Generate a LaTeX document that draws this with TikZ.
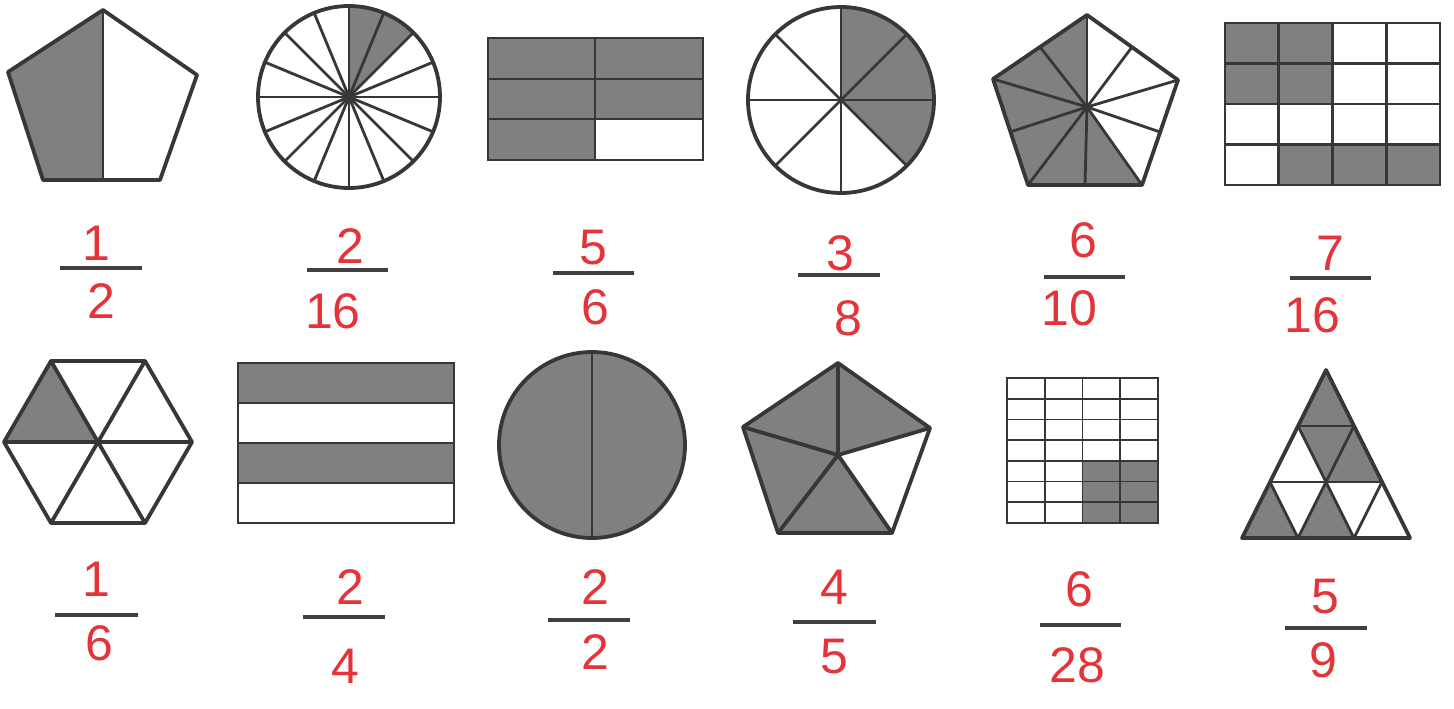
\documentclass[tikz,border=0pt]{standalone}
\usepackage{fontspec}
\setmainfont{Liberation Sans}
\usepackage{tikz}
\definecolor{pen}{RGB}{228,52,58}
\definecolor{ink}{RGB}{55,55,55}

\begin{document}
\begin{tikzpicture}[
  x=1pt,
  y=-1pt,
  part/.style={fill=black!50},
  edge/.style={draw=ink, line width=3.8pt, line join=round},
  cut/.style={draw=ink, line width=2.8pt},
  fine/.style={draw=ink, line width=1.8pt},
  bar/.style={draw=black!75, line width=3.5pt},
  num/.style={text=pen, font=\fontsize{50}{50}\selectfont, inner sep=0pt}
]
\useasboundingbox (0,0) rectangle (1454,709);

% pentagon, 1/2
\fill[part] (103,10) -- (8,72) -- (43,180) -- (103,180) -- cycle;
\draw[cut] (103,10) -- (103,180);
\draw[edge] (103,10) -- (197,75) -- (160,180) -- (43,180) -- (8,72) -- cycle;

% circle in 16 parts
\fill[part] (349,97) -- +(-90:91) arc[start angle=-90, end angle=-45, radius=91] -- cycle;
\foreach \a in {0,22.5,...,337.5}
  \draw[cut] (349,97) -- +(\a:91);
\draw[edge] (349,97) circle[radius=91];

% rectangle in 6 parts
\fill[part] (488,38) rectangle (703,119);
\fill[part] (488,119) rectangle (595,160);
\draw[cut] (488,79) -- (703,79) (488,119) -- (703,119) (595,38) -- (595,160);
\draw[cut] (488,38) rectangle (703,160);

% circle in 8 parts
\fill[part] (841,100) -- +(-90:93) arc[start angle=-90, end angle=45, radius=93] -- cycle;
\foreach \a in {0,45,...,315}
  \draw[cut] (841,100) -- +(\a:93);
\draw[edge] (841,100) circle[radius=93];

% pentagon in 10 parts
\fill[part] (1087,107) -- (1087,15) -- (993,79) -- (1028,185) -- (1142,185) -- cycle;
\foreach \p in {(1087,15),(1178,80),(1142,185),(1028,185),(993,79),
                (1040,47),(1010,132),(1085,185),(1160,132),(1132,47)}
  \draw[cut] (1087,107) -- \p;
\draw[edge] (1087,15) -- (1178,80) -- (1142,185) -- (1028,185) -- (993,79) -- cycle;

% grid 4x4
\fill[part] (1225,23) rectangle (1332.5,104);
\fill[part] (1278.75,144.5) rectangle (1440,185);
\foreach \x in {1278.75,1332.5,1386.25}
  \draw[cut] (\x,23) -- (\x,185);
\foreach \y in {63.5,104,144.5}
  \draw[cut] (1225,\y) -- (1440,\y);
\draw[cut] (1225,23) rectangle (1440,185);

% hexagon
\fill[part] (98,442) -- (4,442) -- (51,361) -- cycle;
\draw[edge] (51,361) -- (145,523) (145,361) -- (51,523) (4,442) -- (192,442);
\draw[edge] (51,361) -- (145,361) -- (192,442) -- (145,523) -- (51,523) -- (4,442) -- cycle;

% stripes
\fill[part] (238,363) rectangle (454,403);
\fill[part] (238,443) rectangle (454,483);
\draw[cut] (238,403) -- (454,403) (238,443) -- (454,443) (238,483) -- (454,483);
\draw[cut] (238,363) rectangle (454,523);

% full circle
\fill[part] (592,445) circle[radius=93];
\draw[cut] (592,352) -- (592,538);
\draw[edge] (592,445) circle[radius=93];

% pentagon in 5 parts
\fill[part] (838,363) -- (743,427) -- (778,533) -- (892,533) -- (838,455) -- (930,428) -- cycle;
\foreach \p in {(838,363),(743,427),(778,533),(892,533),(930,428)}
  \draw[edge] (838,455) -- \p;
\draw[edge] (838,363) -- (930,428) -- (892,533) -- (778,533) -- (743,427) -- cycle;

% grid 4x7
\fill[part] (1082.5,460.86) rectangle (1158,523);
\foreach \x in {1044.75,1082.5,1120.25}
  \draw[fine] (\x,378) -- (\x,523);
\foreach \y in {398.71,419.43,440.14,460.86,481.57,502.29}
  \draw[fine] (1007,\y) -- (1158,\y);
\draw[fine] (1007,378) rectangle (1158,523);

% triangle in 9 parts
\fill[part] (1326,370) -- (1298,426) -- (1354,426) -- cycle;
\fill[part] (1298,426) -- (1354,426) -- (1326,482) -- cycle;
\fill[part] (1354,426) -- (1326,482) -- (1382,482) -- cycle;
\fill[part] (1270,482) -- (1242,538) -- (1298,538) -- cycle;
\fill[part] (1326,482) -- (1298,538) -- (1354,538) -- cycle;
\draw[cut] (1298,426) -- (1354,426) (1270,482) -- (1382,482);
\draw[cut] (1354,426) -- (1298,538) (1382,482) -- (1354,538);
\draw[cut] (1298,426) -- (1354,538) (1270,482) -- (1298,538);
\draw[edge] (1326,370) -- (1410,538) -- (1242,538) -- cycle;

% fractions, row 1
\node[num] (n1) at (96,243) {1};
\node[num] (d1) at (101,301) {2};
\draw[bar] (60,268) -- (142,268);
\node[num] (n2) at (350,246) {2};
\node[num] (d2) at (333,311) {16};
\draw[bar] (307,270) -- (388,270);
\node[num] (n3) at (593,248) {5};
\node[num] (d3) at (595,307) {6};
\draw[bar] (553,273) -- (634,273);
\node[num] (n4) at (840,253) {3};
\draw[bar] (798,275) -- (880,275);
\node[num] (d4) at (848,318) {8};
\node[num] (n5) at (1083,240) {6};
\node[num] (d5) at (1069,308) {10};
\draw[bar] (1044,277) -- (1125,277);
\node[num] (n6) at (1330,253) {7};
\node[num] (d6) at (1312,315) {16};
\draw[bar] (1290,278) -- (1371,278);

% fractions, row 2
\node[num] (n7) at (96,579) {1};
\node[num] (d7) at (99,643) {6};
\draw[bar] (55,615) -- (138,615);
\node[num] (n8) at (350,587) {2};
\node[num] (d8) at (345,666) {4};
\draw[bar] (303,617) -- (385,617);
\node[num] (n9) at (595,587) {2};
\node[num] (d9) at (595,652) {2};
\draw[bar] (548,620) -- (630,620);
\node[num] (n10) at (834,587) {4};
\node[num] (d10) at (834,657) {5};
\draw[bar] (793,622) -- (876,622);
\node[num] (n11) at (1079,589) {6};
\node[num] (d11) at (1077,665) {28};
\draw[bar] (1040,625) -- (1121,625);
\node[num] (n12) at (1325,597) {5};
\node[num] (d12) at (1323,660) {9};
\draw[bar] (1285,628) -- (1367,628);
\end{tikzpicture}
\end{document}
